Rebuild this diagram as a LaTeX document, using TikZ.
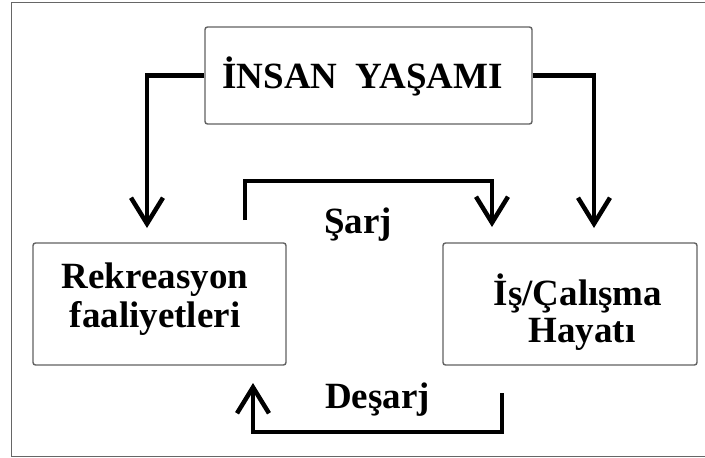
\documentclass[tikz,border=0pt]{standalone}
\usepackage{fontspec}
\setmainfont{Liberation Serif}
\usetikzlibrary{arrows.meta}
\begin{document}
\begin{tikzpicture}[x=1pt,y=-1pt,
  box/.style={draw=black!62, line width=1.4pt, rounded corners=2.5pt, inner sep=0pt, fill=white},
  txt/.style={font=\bfseries\fontsize{37}{37}\selectfont, inner sep=0pt, anchor=base, text height=25pt, text depth=3pt},
  conn/.style={line width=4.5pt, line join=miter, -{Straight Barb[length=26pt,width=32pt]}},
  frame/.style={draw=black!60, line width=1pt}]
\useasboundingbox (0,0) rectangle (705,458);
\draw[frame] (706,2.7) -- (11.5,2.7) -- (11.5,456.5) -- (706,456.5);
% boxes
\node[box, minimum width=327pt, minimum height=97pt] (top) at (368.5,75.5) {};
\node[box, minimum width=253pt, minimum height=122pt] (rek) at (159.5,304) {};
\node[box, minimum width=254pt, minimum height=122pt] (is) at (570,304) {};
% texts
\node[txt] (ttop) at (362.5,88) {İNSAN\ \ YAŞAMI};
\node[txt] (trek1) at (155,288) {Rekreasyon};
\node[txt] (trek2) at (155,327) {faaliyetleri};
\node[txt] (tis1) at (578,305) {İş/Çalışma};
\node[txt] (tis2) at (582,342) {Hayatı};
\node[txt] (sarj) at (358,233) {Şarj};
\node[txt] (desarj) at (377.5,408) {Deşarj};
% connector points
\coordinate (lt) at (147,228);
\coordinate (rt) at (594,228);
\coordinate (s0) at (245,220);
\coordinate (sA) at (245,181);
\coordinate (s1) at (492,227);
\coordinate (d0) at (502,393);
\coordinate (dA) at (502,432);
\coordinate (d1) at (253,383);
% connectors
\draw[conn] (top.west) -| (lt);
\draw[conn] (top.east) -| (rt);
\draw[conn] (s0) -- (sA) -| (s1);
\draw[conn] (d0) -- (dA) -| (d1);
\end{tikzpicture}
\end{document}
